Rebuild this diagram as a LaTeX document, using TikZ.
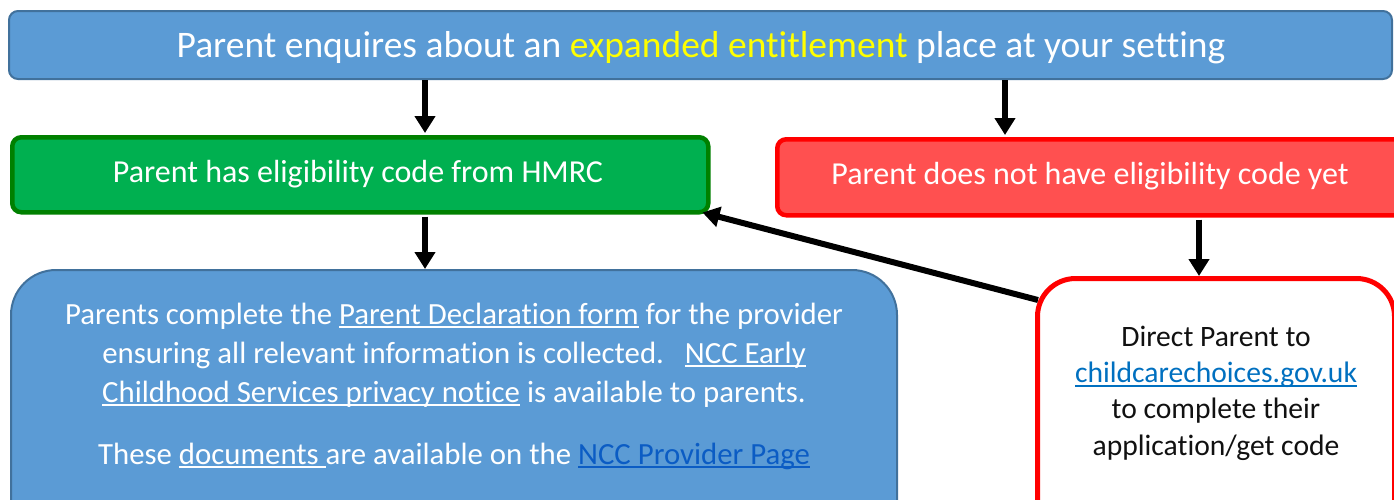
\documentclass[tikz,border=0pt]{standalone}
\usepackage{fontspec}
\setmainfont{Carlito}[Ligatures=NoCommon]
\usetikzlibrary{arrows.meta}
\definecolor{boxblue}{HTML}{5B9BD5}
\definecolor{boxblueline}{HTML}{41719C}
\definecolor{boxgreen}{HTML}{00B050}
\definecolor{boxgreenline}{HTML}{008000}
\definecolor{boxred}{HTML}{FF5050}
\definecolor{boxredline}{HTML}{FF0000}
\definecolor{linkdark}{HTML}{0B5CC4}
\definecolor{linkblue}{HTML}{0070C0}
\definecolor{hiyellow}{HTML}{FFFF00}
\definecolor{txtdark}{HTML}{111111}
\newsavebox\myulbox
\newcommand\myul[1]{\sbox\myulbox{#1}\rlap{\rule[-0.14em]{\wd\myulbox}{0.065em}}\usebox\myulbox}
\tikzset{
  bluebox/.style={draw=boxblueline, fill=boxblue, line width=2pt, text=white},
  greenbox/.style={draw=boxgreenline, fill=boxgreen, line width=4.5pt, rounded corners=9pt, text=white},
  redbox/.style={draw=boxredline, fill=boxred, line width=4.5pt, rounded corners=9pt, text=white},
  whitebox/.style={draw=boxredline, fill=white, line width=5pt, rounded corners=38pt},
  flowarrow/.style={line width=6pt, draw=black, -{Triangle[length=17pt,width=20pt]}},
  plain/.style={inner sep=0pt, align=center}
}
\begin{document}
\begin{tikzpicture}[x=1pt,y=-1pt]
\useasboundingbox (0,0) rectangle (1394,499);
\clip (0,0) rectangle (1394,499);
% boxes
\node[bluebox, rounded corners=9pt, minimum width=1383pt, minimum height=68pt, anchor=north west, inner sep=0pt] (top) at (8,10) {};
\node[plain, font=\fontsize{37.5}{44}\selectfont, text=white] (toptext) at (701,48)
  {Parent enquires about an \textcolor{hiyellow}{expanded entitlement} place at your setting};
\node[greenbox, minimum width=696pt, minimum height=75pt, anchor=north west, inner sep=0pt] (green) at (10,135) {};
\node[plain, font=\fontsize{32}{38}\selectfont, text=white] (greentext) at (358,174) {Parent has eligibility code from HMRC};
\node[redbox, minimum width=640pt, minimum height=76pt, anchor=north west, inner sep=0pt] (red) at (775,137) {};
\node[plain, font=\fontsize{32}{38}\selectfont, text=white] (redtext) at (1090,176) {Parent does not have eligibility code yet};
\node[bluebox, rounded corners=45pt, minimum width=886pt, minimum height=290pt, anchor=north west, inner sep=0pt] (bl) at (10,269) {};
\node[plain, font=\fontsize{30.8}{39}\selectfont, text=white] (bltext) at (454,386)
  {Parents complete the \myul{Parent Declaration form} for the provider\\
   ensuring all relevant information is collected.\ \ \ \myul{NCC Early}\\
   \myul{Childhood Services privacy notice} is available to parents.\\[23pt]
   These \myul{documents\ }are available on the \textcolor{linkdark}{\myul{NCC Provider Page}}};
\node[whitebox, minimum width=357pt, minimum height=290pt, anchor=north west, inner sep=0pt] (br) at (1035,276) {};
\node[plain, font=\fontsize{29.6}{36.3}\selectfont, text=txtdark] (brtext) at (1216,393)
  {Direct Parent to\\ \textcolor{linkblue}{\myul{childcarechoices.gov.uk}}\\ to complete their\\ application/get code};
% arrow columns
\coordinate (ca) at (425,0);
\coordinate (cb) at (1005,0);
\coordinate (cc) at (1199,0);
% connectors
\draw[flowarrow] (top.south -| ca) -- ([yshift=2pt]green.north -| ca);
\draw[flowarrow] (top.south -| cb) -- ([yshift=2pt]red.north -| cb);
\draw[flowarrow] ([yshift=-2pt]green.south -| ca) -- (bl.north -| ca);
\draw[flowarrow] ([yshift=-2pt]red.south -| cc) -- (br.north -| cc);
\draw[flowarrow] ([shift={(3pt,-24pt)}]br.north west) -- ([shift={(-8pt,2pt)}]green.south east);
\end{tikzpicture}
\end{document}
